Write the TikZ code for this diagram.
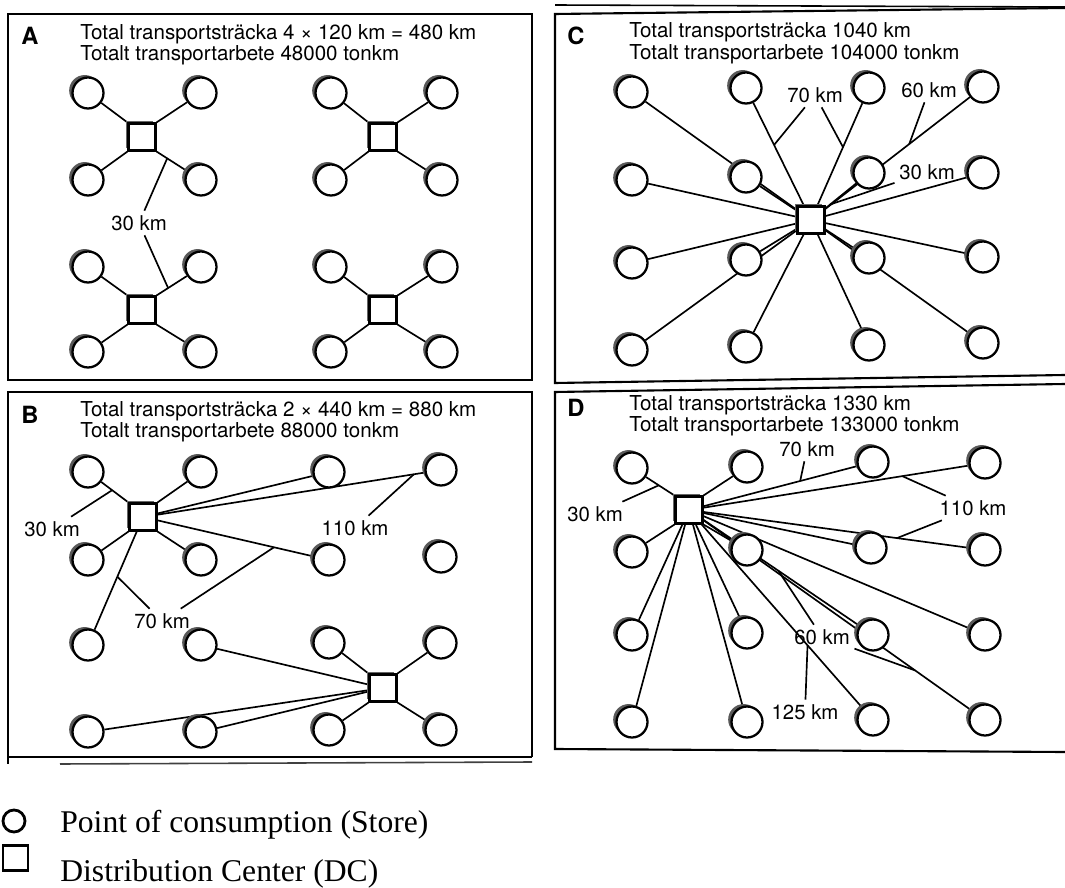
\documentclass[tikz,border=0pt]{standalone}
\usepackage{fontspec}
\setmainfont{TeX Gyre Heros}
\newfontfamily\legendfont{Liberation Serif}
\usetikzlibrary{positioning, shadows, backgrounds}
\tikzset{
  store/.style={circle, draw, line width=1.3pt, fill=white, minimum size=0.62cm, inner sep=0pt,
    general shadow={shadow xshift=-1.9pt, shadow yshift=1.4pt, fill=black!65}},
  dc/.style={rectangle, draw, line width=1.2pt, fill=white, minimum size=0.54cm, inner sep=0pt,
    general shadow={shadow xshift=-1.6pt, shadow yshift=1.2pt, fill=black!60}},
  legstore/.style={circle, draw, line width=1.6pt, minimum size=0.44cm, inner sep=0pt},
  legdc/.style={rectangle, draw, line width=1.6pt, minimum size=0.5cm, inner sep=0pt},
  link/.style={line width=0.95pt},
  frame/.style={line width=1.2pt},
  dist/.style={font=\fontsize{11.6}{12}\selectfont, inner sep=2.5pt},
  head/.style={font=\fontsize{11.7}{12}\selectfont, anchor=base west, inner sep=0pt},
  tag/.style={font=\bfseries\fontsize{13.5}{14}\selectfont, anchor=base west, inner sep=0pt},
  legend/.style={font=\legendfont\fontsize{18}{20}\selectfont, anchor=base west, inner sep=0pt}
}
\begin{document}
\begin{tikzpicture}[x=0.02cm, y=-0.02cm]
\useasboundingbox (0,0) rectangle (1065,888);

\draw[frame] (8,14) rectangle (532,380);
\draw[frame] (532,757) -- (532,392) -- (8,392) -- (8,764);
\draw[frame] (8,757) -- (532,757);
\draw[line width=0.9pt, black!75] (60,764) -- (532,762);
\draw[line width=0.9pt] (555,5) -- (1065,7);
\draw[frame] (1065,8) -- (555,14) -- (555,383) -- (1065,375);
\draw[frame] (1065,384) -- (555,392) -- (555,749) -- (1065,752);

\node[tag] (tagA) at (21,45) {A};
\node[head] (headA1) at (80,39.5) {Total transportsträcka 4 × 120 km = 480 km};
\node[head] (headA2) at (80,61) {Totalt transportarbete 48000 tonkm};
\node[tag] (tagB) at (21,423) {B};
\node[head] (headB1) at (80,417) {Total transportsträcka 2 × 440 km = 880 km};
\node[head] (headB2) at (80,438) {Totalt transportarbete 88000 tonkm};
\node[tag] (tagC) at (567,45) {C};
\node[head] (headC1) at (629,38) {Total transportsträcka 1040 km};
\node[head] (headC2) at (629,60) {Totalt transportarbete 104000 tonkm};
\node[tag] (tagD) at (567,417) {D};
\node[head] (headD1) at (629,411) {Total transportsträcka 1330 km};
\node[head] (headD2) at (629,432) {Totalt transportarbete 133000 tonkm};

\node[store] (sA1a) at (88,93) {};
\node[store] (sA1b) at (201,93) {};
\node[store] (sA1c) at (88,180) {};
\node[store] (sA1d) at (201,180) {};
\node[dc] (dcA1) at (142,137) {};
\node[store] (sA2a) at (331,93) {};
\node[store] (sA2b) at (442,93) {};
\node[store] (sA2c) at (331,180) {};
\node[store] (sA2d) at (442,180) {};
\node[dc] (dcA2) at (383,137) {};
\node[store] (sA3a) at (88,267) {};
\node[store] (sA3b) at (201,267) {};
\node[store] (sA3c) at (88,352) {};
\node[store] (sA3d) at (201,352) {};
\node[dc] (dcA3) at (142,310) {};
\node[store] (sA4a) at (331,267) {};
\node[store] (sA4b) at (442,267) {};
\node[store] (sA4c) at (331,352) {};
\node[store] (sA4d) at (442,352) {};
\node[dc] (dcA4) at (383,310) {};

\node[store] (sB11) at (88,472) {};
\node[store] (sB12) at (201,472) {};
\node[store] (sB13) at (329,472) {};
\node[store] (sB14) at (441,470) {};
\node[store] (sB21) at (88,560) {};
\node[store] (sB22) at (201,560) {};
\node[store] (sB23) at (329,560) {};
\node[store] (sB24) at (441,557) {};
\node[store] (sB31) at (88,645) {};
\node[store] (sB32) at (201,645) {};
\node[store] (sB33) at (329,643) {};
\node[store] (sB34) at (441,643) {};
\node[store] (sB41) at (88,732) {};
\node[store] (sB42) at (201,732) {};
\node[store] (sB43) at (329,730) {};
\node[store] (sB44) at (441,730) {};
\node[dc] (dcB1) at (143,517) {};
\node[dc] (dcB2) at (383,688) {};

\node[store] (sC11) at (632,92) {};
\node[store] (sC12) at (746,88) {};
\node[store] (sC13) at (869,88) {};
\node[store] (sC14) at (983,87) {};
\node[store] (sC21) at (632,180) {};
\node[store] (sC22) at (746,177) {};
\node[store] (sC23) at (869,173) {};
\node[store] (sC24) at (983,173) {};
\node[store] (sC31) at (632,263) {};
\node[store] (sC32) at (746,260) {};
\node[store] (sC33) at (869,258) {};
\node[store] (sC34) at (983,257) {};
\node[store] (sC41) at (632,350) {};
\node[store] (sC42) at (746,347) {};
\node[store] (sC43) at (869,345) {};
\node[store] (sC44) at (983,343) {};
\node[dc] (dcC) at (811,220) {};

\node[store] (sD11) at (632,468) {};
\node[store] (sD12) at (747,467) {};
\node[store] (sD13) at (873,462) {};
\node[store] (sD14) at (985,463) {};
\node[store] (sD21) at (632,552) {};
\node[store] (sD22) at (747,550) {};
\node[store] (sD23) at (871,548) {};
\node[store] (sD24) at (985,550) {};
\node[store] (sD31) at (632,635) {};
\node[store] (sD32) at (747,633) {};
\node[store] (sD33) at (873,635) {};
\node[store] (sD34) at (985,635) {};
\node[store] (sD41) at (632,722) {};
\node[store] (sD42) at (747,722) {};
\node[store] (sD43) at (873,720) {};
\node[store] (sD44) at (985,720) {};
\node[dc] (dcD) at (689,510) {};

\begin{scope}[on background layer]
\draw[link] (dcA1.north west) -- (sA1a);
\draw[link] (dcA1.north east) -- (sA1b);
\draw[link] (dcA1.south west) -- (sA1c);
\draw[link] (dcA1.south east) -- (sA1d) coordinate[pos=.35] (kmA1);
\draw[link] (dcA2.north west) -- (sA2a);
\draw[link] (dcA2.north east) -- (sA2b);
\draw[link] (dcA2.south west) -- (sA2c);
\draw[link] (dcA2.south east) -- (sA2d);
\draw[link] (dcA3.north west) -- (sA3a);
\draw[link] (dcA3.north east) -- (sA3b) coordinate[pos=.38] (kmA3);
\draw[link] (dcA3.south west) -- (sA3c);
\draw[link] (dcA3.south east) -- (sA3d);
\draw[link] (dcA4.north west) -- (sA4a);
\draw[link] (dcA4.north east) -- (sA4b);
\draw[link] (dcA4.south west) -- (sA4c);
\draw[link] (dcA4.south east) -- (sA4d);

\draw[link] (dcB1.north west) -- (sB11) coordinate[pos=.6] (kmB30);
\draw[link] (dcB1.north east) -- (sB12);
\draw[link] (dcB1.south west) -- (sB21);
\draw[link] (dcB1.south east) -- (sB22);
\draw[link] (dcB1) -- (sB13);
\draw[link] (dcB1) -- (sB14) coordinate[pos=.96] (kmB110);
\draw[link] (dcB1) -- (sB23) coordinate[pos=.75] (kmB70b);
\draw[link] (dcB1) -- (sB31) coordinate[pos=.46] (kmB70a);
\draw[link] (dcB2.north west) -- (sB33);
\draw[link] (dcB2.north east) -- (sB34);
\draw[link] (dcB2.south west) -- (sB43);
\draw[link] (dcB2.south east) -- (sB44);
\draw[link] (dcB2) -- (sB32);
\draw[link] (dcB2) -- (sB41);
\draw[link] (dcB2) -- (sB42);

\draw[link] (dcC) -- (sC11);
\draw[link] (dcC) -- (sC12) coordinate[pos=.59] (kmC70a);
\draw[link] (dcC) -- (sC13) coordinate[pos=.57] (kmC70b);
\draw[link] (dcC) -- (sC14) coordinate[pos=.58] (kmC60);
\draw[link] (dcC) -- (sC21);
\draw[link] (dcC) -- (sC22);
\draw[link] (dcC) -- (sC23) coordinate[pos=.15] (kmC30);
\draw[link] (dcC) -- (sC24);
\draw[link] (dcC) -- (sC31);
\draw[link] (dcC) -- (sC32);
\draw[link] (dcC) -- (sC33);
\draw[link] (dcC) -- (sC34);
\draw[link] (dcC) -- (sC41);
\draw[link] (dcC) -- (sC42);
\draw[link] (dcC) -- (sC43);
\draw[link] (dcC) -- (sC44);

\draw[link] (dcD.north west) -- (sD11) coordinate[pos=.55] (kmD30);
\draw[link] (dcD.north east) -- (sD12);
\draw[link] (dcD.south west) -- (sD21);
\draw[link] (dcD.south east) -- (sD22);
\draw[link] (dcD) -- (sD13) coordinate[pos=.63] (kmD70);
\draw[link] (dcD) -- (sD14) coordinate[pos=.75] (kmD110a);
\draw[link] (dcD) -- (sD23);
\draw[link] (dcD) -- (sD24) coordinate[pos=.73] (kmD110b);
\draw[link] (dcD) -- (sD31);
\draw[link] (dcD) -- (sD32);
\draw[link] (dcD) -- (sD33) coordinate[pos=.48] (kmD60a);
\draw[link] (dcD) -- (sD34);
\draw[link] (dcD) -- (sD41);
\draw[link] (dcD) -- (sD42);
\draw[link] (dcD) -- (sD43) coordinate[pos=.66] (kmD125);
\draw[link] (dcD) -- (sD44) coordinate[pos=.79] (kmD60b);
\end{scope}

\node[dist] (lblA30) at (139,223) {30 km};
\draw[link] (lblA30) -- (kmA1);
\draw[link] (lblA30) -- (kmA3);
\node[dist] (lblB30) at (52,529) {30 km};
\draw[link] (lblB30) -- (kmB30);
\node[dist] (lblB110) at (355,528) {110 km};
\draw[link] (lblB110) -- (kmB110);
\node[dist] (lblB70) at (162,621) {70 km};
\draw[link] (lblB70) -- (kmB70a);
\draw[link] (lblB70) -- (kmB70b);
\node[dist] (lblC70) at (815,95) {70 km};
\draw[link] (lblC70) -- (kmC70a);
\draw[link] (lblC70) -- (kmC70b);
\node[dist] (lblC60) at (929,90) {60 km};
\draw[link] (lblC60) -- (kmC60);
\node[dist] (lblC30) at (927,172) {30 km};
\draw[link] (lblC30) -- (kmC30);
\node[dist] (lblD70) at (807,449) {70 km};
\draw[link] (lblD70) -- (kmD70);
\node[dist] (lblD30) at (595,514) {30 km};
\draw[link] (lblD30) -- (kmD30);
\node[dist] (lblD110) at (973,508) {110 km};
\draw[link] (lblD110) -- (kmD110a);
\draw[link] (lblD110) -- (kmD110b);
\node[dist] (lblD60) at (822,637) {60 km};
\draw[link] (lblD60) -- (kmD60a);
\draw[link] (lblD60) -- (kmD60b);
\node[dist] (lblD125) at (805,712) {125 km};
\draw[link] (lblD125) -- (kmD125);

\node[legstore] (legS) at (14,821) {};
\node[legdc] (legD) at (15.5,858) {};
\node[legend] (legSt) at (60,832) {Point of consumption (Store)};
\node[legend] (legDt) at (60,881) {Distribution Center (DC)};
\end{tikzpicture}
\end{document}
